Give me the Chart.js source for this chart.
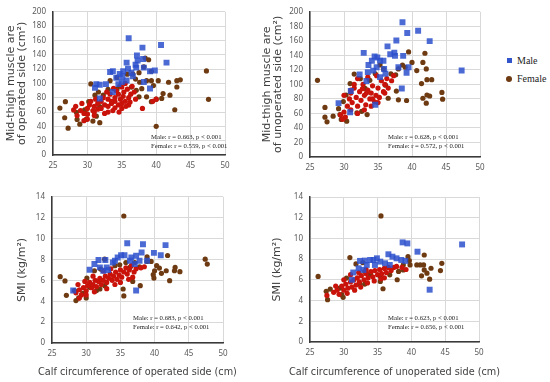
<!DOCTYPE html>
<html>
<head>
<meta charset="utf-8">
<script src="https://cdn.jsdelivr.net/npm/chart.js@4"></script>
<style>
  body { margin: 0; background: #fff; }
  #wrap { position: relative; width: 550px; height: 382px; overflow: hidden; }
  canvas { position: absolute; }
  .leg { position: absolute; font: 10px "Liberation Serif", serif; color: #222; }
  .leg span { position: absolute; }
</style>
</head>
<body>
<div id="wrap">
  <canvas id="c1" width="240" height="180" style="left:0;top:0"></canvas>
  <canvas id="c2" width="240" height="180" style="left:255px;top:0"></canvas>
  <canvas id="c3" width="245" height="197" style="left:0;top:185px"></canvas>
  <canvas id="c4" width="250" height="197" style="left:255px;top:185px"></canvas>
  <div class="leg" style="left:507px;top:58px">
    <span style="left:0;top:0;width:5px;height:5px;background:#3355cc"></span>
    <span style="left:10px;top:-3px">Male</span>
  </div>
  <div class="leg" style="left:506px;top:76px">
    <span style="left:0;top:0;width:6px;height:6px;border-radius:3px;background:#6e3a12"></span>
    <span style="left:11px;top:-3px">Female</span>
  </div>
</div>
<script>
// tick labels
const xTicks = [25, 30, 35, 40, 45, 50];
const thighTicks = [0, 20, 40, 60, 80, 100, 120, 140, 160, 180, 200];
const smiTicks = [0, 2, 4, 6, 8, 10, 12, 14];

// mid-thigh muscle area vs calf circumference, operated side
const thighOpMale = [[36,163],[40.7,153.5],[38,150],[41.5,129],[37.2,139],[37.3,132],[38.1,134],[37,126],[35.7,129],[35.9,120.5],[35.2,117],[34.7,113],[33.3,116],[33.7,117],[37.1,122],[38.2,122],[39.1,117],[39.8,118],[36.4,115],[34.2,108],[34.5,99],[31.3,99],[31.8,98],[31.1,94],[38.2,102],[39.1,93],[35.7,104],[35,102],[32.7,99],[33.7,88],[31.8,79],[36.6,110],[35.1,110]];
const thighOpFemale = [[26,65.5],[26.8,74.5],[27.2,37.5],[26.7,52],[28.4,59.6],[28.9,43],[28.5,49.7],[29.6,63],[30.2,74.5],[30.5,99.3],[29.95,57.3],[29.8,49.7],[30.8,47.4],[31.8,45.1],[31.3,54.2],[31.8,67.7],[31.1,83.5],[31.6,88],[32.3,83.5],[33,91.6],[33.3,103.8],[34.3,108.4],[34.3,91.6],[34.7,96],[35.8,112.9],[36.6,113],[37,106],[37.6,101.6],[38.6,103.8],[39.3,103.8],[38.4,135.4],[38.9,133],[38.2,123],[39.3,117],[37.5,115],[36.4,94.8],[37.1,90.3],[37.9,92.6],[37.5,81.3],[38.6,81.3],[39.6,97],[40.3,103.8],[41.8,101.6],[43,103.8],[43.5,105],[43,95],[42,83.5],[41,85.8],[40.8,79],[40,78],[39.3,74.5],[42.7,63.2],[40,40],[47.3,117.4],[47.6,77.7]];
const thighOpFemaleDense = [[29,62],[29.5,58],[30,65],[30.3,70],[30.5,75],[31,68],[31,60],[31.5,72],[32,75],[32,65],[32.3,80],[32.5,70],[33,78],[33,68],[33.3,85],[33.5,72],[33.7,62],[34,80],[34,75],[34.2,90],[34.5,70],[34.5,85],[34.8,78],[35,95],[35,65],[35.2,82],[35.3,88],[35.5,75],[35.5,100],[35.8,92],[36,80],[36,70],[36.3,85],[36.5,96],[34,66],[33,60],[31.5,64],[30,57],[28.5,55],[28,63],[28.3,68],[29.2,72],[30.8,62],[32.8,88],[33.8,93],[34.6,60],[35.6,68],[36.8,88],[37,78],[31.2,78],[32.5,58],[35,72],[33.5,75],[36.2,74],[38,65],[39.5,75],[40,78],[30,50],[29.5,48],[31,55]];

// mid-thigh muscle area vs calf circumference, unoperated side
const thighUnopMale = [[38.6,185.6],[40.9,174],[39.3,170.8],[42.6,159.6],[37.7,160.4],[36.4,152.4],[32.9,143.4],[34.5,138.4],[34.9,137],[35.3,132.6],[34.1,132.6],[33.6,126.7],[35.8,132.6],[36.8,141.6],[37.5,139.3],[37.4,143.8],[38.7,139.3],[38,123.6],[39.5,123.6],[39.2,116],[33.5,116.9],[32.3,113.7],[34.3,119],[34.8,123.6],[35.9,121.3],[36.1,114.6],[33.3,104.7],[35.3,110],[38.5,94.4],[31,90.8],[29.2,74.2],[34.6,71.9],[30.9,61.6],[47.3,119.1]];
const thighUnopFemale = [[26.1,105.6],[27.2,68.3],[27.5,48.5],[27.2,54.8],[28.4,56.2],[29.2,66.5],[29.4,58.4],[29.6,51.7],[29.9,76.4],[30.3,85.4],[30.9,101.1],[31.5,114.2],[32.4,107.9],[33.1,94.4],[33.4,58.4],[33.8,105.6],[34.6,114.6],[35.3,126.7],[35.8,121.3],[36.1,98.9],[36.5,80.9],[36.9,114.6],[37.6,113.3],[38,121.3],[38.6,126.7],[39,123.6],[39.5,144.7],[40,130.3],[40.7,119.1],[41.6,130.3],[41.9,142.9],[42.1,121.3],[41.4,101.1],[42.2,106.5],[42.9,106.5],[42.2,85.4],[42.6,84],[41.6,80.9],[42.1,74.2],[44.4,89],[44.5,79.6],[38,78.7],[39.2,77.8],[37.7,90.8],[32.6,62.9],[31.9,60.7],[30.4,49.4]];
const thighUnopFemaleDense = [[29.5,58],[30,62],[30.5,70],[30.8,80],[31,88],[31.2,75],[31.5,95],[31.8,82],[32,70],[32.3,90],[32.5,78],[32.8,100],[33,85],[33.2,72],[33.5,92],[33.8,80],[34,88],[34.2,98],[34.5,76],[34.7,85],[35,95],[35.2,82],[35.5,105],[35.8,90],[36,100],[36.3,108],[36.5,95],[37,105],[37.3,112],[30.2,55],[29.8,52],[31,65],[32,60],[33,65],[34,70],[31.5,100],[32,108],[33.5,110],[34.8,112],[30,85],[31,92],[32.7,94],[33.3,88],[34.2,80],[36,88],[35,75]];

// SMI vs calf circumference, operated side
const smiOpMale = [[36,9.56],[38.3,9.46],[41.6,9.37],[39.9,8.63],[40.9,8.41],[38.1,8.67],[37.3,8.35],[36.6,8.19],[35.6,8.41],[35.1,8.41],[34.6,8.19],[34.2,7.87],[33.9,7.71],[32.8,7.94],[31.8,7.94],[31.2,7.56],[30.5,7.02],[32,7.24],[33,7.24],[36.4,7.87],[37.8,7.87],[38.9,7.87],[37.1,7.56],[37.3,5.02],[28.1,5.02],[33.2,6.98],[32.5,6.92]];
const smiOpFemale = [[35.5,12.16],[26.2,6.35],[26.9,5.94],[27.1,4.57],[28.3,5.02],[28.5,4.06],[28.9,4.32],[30,4.32],[30.1,6.22],[31.2,6.92],[32.1,7.08],[32.7,8.03],[34.2,7.4],[34.9,7.49],[35.8,7.71],[36.4,7.24],[37.1,7.71],[37.8,7.3],[38.9,8.25],[38.9,7.81],[39.5,7.81],[40,6.92],[40.3,7.4],[40.7,7.17],[41.9,8.38],[41,6.67],[41.7,6.92],[42.2,5.97],[42.9,6.92],[43,7.24],[43.7,6.83],[39.8,6.54],[39.9,6.22],[37.9,5.49],[36.8,5.9],[35.4,5.17],[35.5,4.51],[32.7,5.49],[32,5.17],[31.5,5.02],[30.5,5.33],[29.5,4.76],[47.4,8.03],[47.7,7.56]];
const smiOpFemaleDense = [[28.5,4.8],[29,5.1],[29.3,4.6],[29.6,5.3],[30,5],[30.2,5.5],[30.5,5.8],[30.8,5.3],[31,5.6],[31.3,6],[31.5,5.4],[31.8,5.9],[32,6.2],[32.2,5.6],[32.5,6],[32.8,6.4],[33,5.8],[33.3,6.2],[33.5,6.6],[33.8,6],[34,6.4],[34.3,6.8],[34.5,6.1],[34.8,6.5],[35,7],[35.2,6.3],[35.5,6.8],[35.8,7.2],[36,6.6],[36.3,7],[36.6,7.4],[37,6.8],[37.3,7.1],[28.8,5.6],[29.8,5.9],[31,6.4],[32.5,6.9],[33.6,7.1],[34.2,5.6],[35,5.8],[36.2,6.1],[30,4.6],[31.2,4.9],[38,7.2],[38.5,7.3],[36.8,6.3],[33,5.2],[29,4.3]];

// SMI vs calf circumference, unoperated side
const smiUnopMale = [[38.7,9.62],[39.4,9.52],[40.9,8.72],[47.5,9.42],[36.6,8.47],[37.2,8.24],[37.8,8.08],[38.5,7.92],[39.1,7.83],[34.9,8.08],[34.4,7.92],[33.9,7.92],[33.1,7.86],[32.4,7.83],[32.2,7.12],[31.4,6.71],[35.4,7.76],[36.1,7.6],[36.8,7.44],[33.4,7.44],[42.7,5.05],[31.2,6.01],[34.6,7.44],[32.9,6.96]];
const smiUnopFemale = [[35.5,12.17],[26.2,6.33],[27.4,4.89],[28,5.11],[27.6,4.09],[29.7,4.57],[29.4,5.21],[29.9,4.31],[30.9,8.15],[30.4,6.17],[31.8,7.54],[32.8,7.67],[33.1,6.81],[33.9,6.49],[35.4,6.33],[35.8,5.14],[35.4,5.85],[36.8,6.49],[37.9,6.01],[38.1,6.81],[38.8,7.44],[39.5,8.24],[39.7,7.86],[39.8,7.44],[38.8,6.96],[40.8,7.44],[41.9,8.4],[41.3,7.44],[41.8,7.44],[41.9,6.96],[41.5,6.39],[42.3,6.65],[42.7,6.07],[42.9,7.12],[44.5,7.6],[44.3,6.9],[34,6.7],[33.1,5.59],[32.4,5.59]];
const smiUnopFemaleDense = [[28.5,4.8],[29,5],[29.3,4.6],[29.7,5.4],[30,5],[30.3,5.6],[30.6,5.2],[31,5.8],[31.2,5.3],[31.5,6],[31.8,5.5],[32,6.2],[32.3,5.8],[32.6,6.4],[33,6],[33.3,6.6],[33.6,6.2],[34,6.8],[34.3,6.3],[34.6,6.9],[35,6.5],[35.3,7],[35.6,6.6],[36,7.1],[36.3,6.7],[36.6,7.2],[37,6.9],[37.4,7.2],[37.8,7.3],[30.5,4.7],[31.6,5],[32.5,5.3],[33.5,5.7],[34.5,5.9],[35.5,6.1],[28.8,5.4],[30,6],[31,6.5],[32.2,6.7],[33.3,7],[36,6.2],[38.6,7.2],[39.2,7],[27.5,4.5]];

const stats1 = ['Male: r = 0.663, p < 0.001', 'Female: r = 0.559, p < 0.001'];
const stats2 = ['Male: r = 0.628, p < 0.001', 'Female: r = 0.572, p < 0.001'];
const stats3 = ['Male: r = 0.683, p < 0.001', 'Female: r = 0.642, p < 0.001'];
const stats4 = ['Male: r = 0.623, p < 0.001', 'Female: r = 0.656, p < 0.001'];

Chart.defaults.font.family = '"Noto Sans", sans-serif';

const toXY = arr => arr.map(p => ({ x: p[0], y: p[1] }));

// draws the correlation text in the lower right corner of the plot
const statsPlugin = {
  id: 'stats',
  afterDatasetsDraw(chart, args, opts) {
    const ctx = chart.ctx;
    const a = chart.chartArea;
    ctx.save();
    ctx.font = '6.7px "Liberation Serif", serif';
    ctx.fillStyle = '#222';
    ctx.textBaseline = 'middle';
    ctx.fillText(opts.lines[0], a.right - opts.dx, a.bottom - opts.dy);
    ctx.fillText(opts.lines[1], a.right - opts.dx, a.bottom - opts.dy + 9);
    ctx.restore();
  }
};

// bottom axis title, centred under the plot
const xTitlePlugin = {
  id: 'xTitle',
  afterDraw(chart, args, opts) {
    if (!opts.text) return;
    const ctx = chart.ctx;
    const a = chart.chartArea;
    ctx.save();
    ctx.font = '9.7px "DejaVu Sans", sans-serif';
    ctx.fillStyle = '#404040';
    ctx.textAlign = 'center';
    ctx.textBaseline = 'middle';
    ctx.fillText(opts.text, (a.left + a.right) / 2, chart.height - 9.5);
    ctx.restore();
  }
};

function makeChart(id, cfg) {
  const yTicks = cfg.yTicks;
  return new Chart(document.getElementById(id), {
    type: 'scatter',
    data: {
      datasets: [
        { label: 'Male', data: toXY(cfg.male), pointStyle: 'rect', pointRadius: 4.2,
          backgroundColor: 'rgba(45,80,205,0.85)', borderWidth: 0 },
        { label: 'Female', data: toXY(cfg.dense), pointRadius: 2.6,
          backgroundColor: '#c8120a', borderWidth: 0 },
        { label: 'Female', data: toXY(cfg.female), pointRadius: 2.6,
          backgroundColor: '#6e3a12', borderWidth: 0 }
      ]
    },
    options: {
      responsive: false,
      animation: false,
      events: [],
      layout: { padding: { left: 0, top: cfg.padTop, right: cfg.padRight, bottom: 0 } },
      plugins: { legend: { display: false }, tooltip: { enabled: false },
                 stats: cfg.stats, xTitle: { text: cfg.xTitle } },
      scales: {
        x: {
          type: 'linear', min: xTicks[0], max: xTicks[xTicks.length - 1],
          afterBuildTicks: s => { s.ticks = xTicks.map(v => ({ value: v })); },
          afterFit: s => { s.height = cfg.xHeight; },
          grid: { color: '#d9d9d9', drawTicks: false },
          border: { color: '#3a3a3a', width: 1.5 },
          ticks: { color: '#595959', font: { size: 8 }, padding: 6 }
        },
        y: {
          type: 'linear', min: yTicks[0], max: yTicks[yTicks.length - 1],
          afterBuildTicks: s => { s.ticks = yTicks.map(v => ({ value: v })); },
          afterFit: s => { s.width = cfg.yWidth; },
          grid: { color: '#d9d9d9', drawTicks: false },
          border: { color: '#3a3a3a', width: 1.5 },
          ticks: { color: '#595959', font: { size: 8 }, padding: 7 },
          title: { display: true, text: cfg.yTitle, color: '#404040',
                   font: { family: '"DejaVu Sans", sans-serif', size: 11, lineHeight: 1.0 },
                   padding: { top: cfg.titlePad, bottom: 0 } }
        }
      }
    },
    plugins: [statsPlugin, xTitlePlugin]
  });
}

makeChart('c1', {
  male: thighOpMale, female: thighOpFemale, dense: thighOpFemaleDense, yTicks: thighTicks,
  padTop: 7, padRight: 15, yWidth: 53, xHeight: 25, titlePad: 5.5,
  yTitle: ['Mid-thigh muscle are', 'of operated side (cm\u00b2)'],
  stats: { lines: stats1, dx: 74, dy: 18 }
});
makeChart('c2', {
  male: thighUnopMale, female: thighUnopFemale, dense: thighUnopFemaleDense, yTicks: thighTicks,
  padTop: 8, padRight: 15, yWidth: 55, xHeight: 23, titlePad: 6.5,
  yTitle: ['Mid-thigh muscle are', 'of unoperated side (cm\u00b2)'],
  stats: { lines: stats2, dx: 92, dy: 20 }
});
makeChart('c3', {
  male: smiOpMale, female: smiOpFemale, dense: smiOpFemaleDense, yTicks: smiTicks,
  padTop: 11, padRight: 22, yWidth: 52, xHeight: 39, titlePad: 17,
  yTitle: 'SMI (kg/m\u00b2)', xTitle: 'Calf circumference of operated side (cm)',
  stats: { lines: stats3, dx: 90, dy: 25 }
});
makeChart('c4', {
  male: smiUnopMale, female: smiUnopFemale, dense: smiUnopFemaleDense, yTicks: smiTicks,
  padTop: 12, padRight: 26, yWidth: 55, xHeight: 40, titlePad: 16.5,
  yTitle: 'SMI (kg/m\u00b2)', xTitle: 'Calf circumference of unoperated side (cm)',
  stats: { lines: stats4, dx: 91, dy: 24 }
});
</script>
</body>
</html>
